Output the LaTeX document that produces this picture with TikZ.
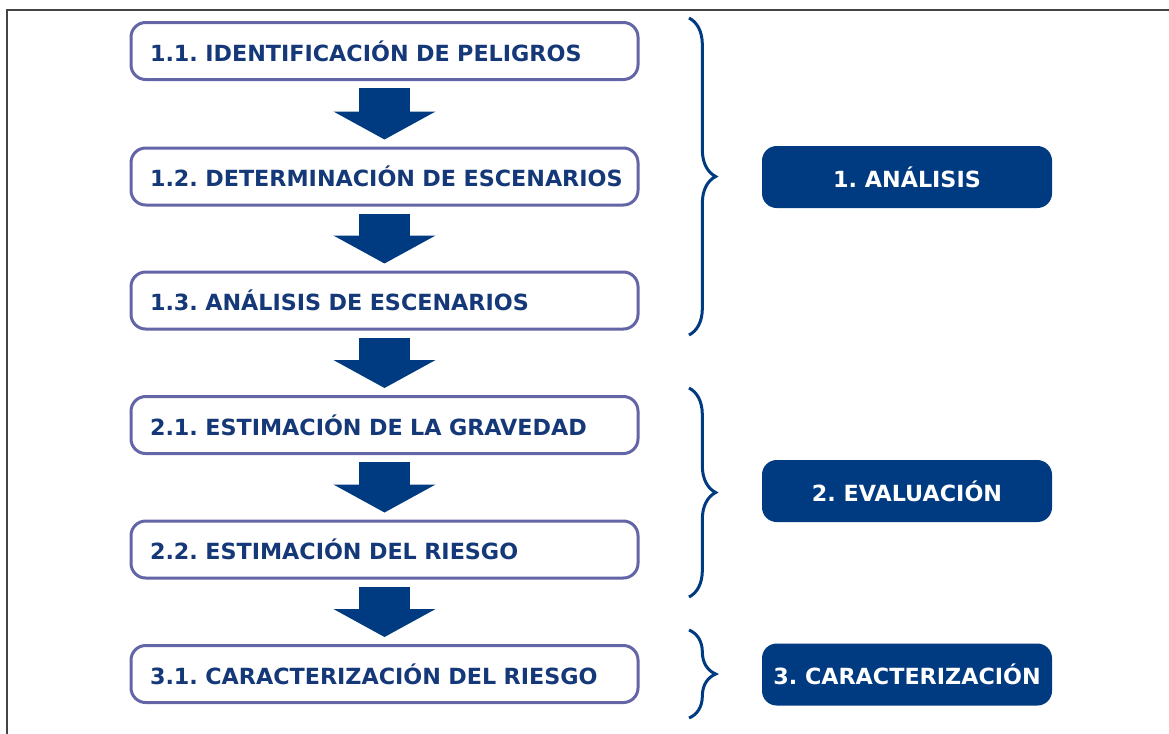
\documentclass[tikz,border=0pt]{standalone}
\usepackage{fontspec}
\setmainfont{DejaVu Sans}
\usetikzlibrary{arrows.meta,decorations.pathreplacing}
\definecolor{navy}{HTML}{003A80}
\definecolor{edgecol}{HTML}{6365A6}
\definecolor{txtcol}{HTML}{143878}
\definecolor{framecol}{HTML}{444444}
\frenchspacing
\hbadness=10000 \hfuzz=50pt
\begin{document}
\begin{tikzpicture}[x=0.75pt,y=-0.75pt,
  font=\bfseries\fontsize{16.7}{19}\selectfont,
  stepbox/.style={draw=edgecol, line width=2.25pt, rounded corners=11pt, fill=white,
    minimum height=42.75pt, text width=351.75pt, inner xsep=14.25pt, inner ysep=0pt,
    align=left, text=txtcol},
  phasebox/.style={fill=navy, rounded corners=11pt, minimum width=217.5pt,
    minimum height=46.5pt, text=white, inner sep=0pt},
  flow/.style={draw=navy, line width=38.25pt,
    -{Triangle[length=21pt,width=75.75pt,fill=navy]},
    shorten <=5.25pt, shorten >=5.25pt},
  bracestyle/.style={draw=navy, line width=2.25pt, decorate,
    decoration={brace, amplitude=20pt}}
]
\useasboundingbox (0,0) rectangle (1169,733);
% frame
\coordinate (fbl) at (7,740);
\coordinate (ftl) at (7,10);
\coordinate (ftr) at (1175,10);
\draw[framecol, line width=1.1pt] (fbl) -- (ftl) -- (ftr);

% step boxes
\node[stepbox] (s11) at (384.5,51)    {\mbox{1.1. IDENTIFICACIÓN DE PELIGROS}};
\node[stepbox] (s12) at (384.5,176.5) {\mbox{1.2. DETERMINACIÓN DE ESCENARIOS}};
\node[stepbox] (s13) at (384.5,300.5) {\mbox{1.3. ANÁLISIS DE ESCENARIOS}};
\node[stepbox] (s21) at (384.5,425)   {\mbox{2.1. ESTIMACIÓN DE LA GRAVEDAD}};
\node[stepbox] (s22) at (384.5,549.5) {\mbox{2.2. ESTIMACIÓN DEL RIESGO}};
\node[stepbox] (s31) at (384.5,674)   {\mbox{3.1. CARACTERIZACIÓN DEL RIESGO}};

% arrows
\draw[flow] (s11.south) -- (s12.north);
\draw[flow] (s12.south) -- (s13.north);
\draw[flow] (s13.south) -- (s21.north);
\draw[flow] (s21.south) -- (s22.north);
\draw[flow] (s22.south) -- (s31.north);

% braces
\coordinate (b1t) at (689,18);
\coordinate (b1b) at (689,335);
\coordinate (b2t) at (689,388);
\coordinate (b2b) at (689,597);
\coordinate (b3t) at (689,630);
\coordinate (b3b) at (689,718);
\draw[bracestyle] (b1t) -- (b1b);
\draw[bracestyle] (b2t) -- (b2b);
\draw[bracestyle] (b3t) -- (b3b);

% phase boxes
\node[phasebox] (p1) at (907,177)   {1. ANÁLISIS};
\node[phasebox] (p2) at (907,491)   {2. EVALUACIÓN};
\node[phasebox] (p3) at (907,674.5) {3. CARACTERIZACIÓN};
\end{tikzpicture}
\end{document}
